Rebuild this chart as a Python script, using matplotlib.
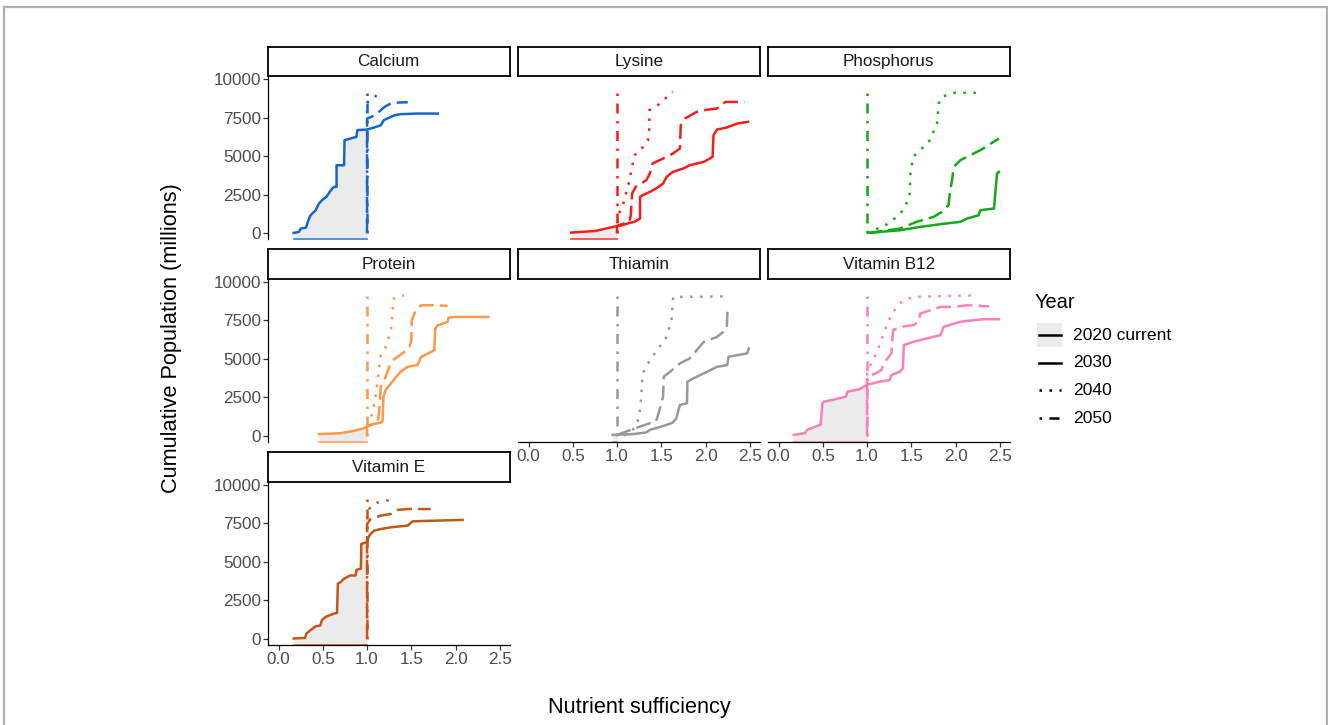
import numpy as np
import matplotlib
matplotlib.use("Agg")
import matplotlib.pyplot as plt
from matplotlib.lines import Line2D
from matplotlib.patches import Rectangle

plt.rcParams['font.family'] = ['Liberation Sans', 'DejaVu Sans']

# nutrients, panel order (facet_wrap, 3 columns)
nutrients = ['Calcium', 'Lysine', 'Phosphorus', 'Protein', 'Thiamin', 'Vitamin B12', 'Vitamin E']
colors = ['#1866c9', '#f81d1d', '#17a817', '#fd9848', '#999999', '#fa7fba', '#c05818']
years = ['2020 current', '2030', '2040', '2050']

# ---- Calcium
ca20_x = [0.17, 0.23, 0.25, 0.31, 0.33, 0.36, 0.42, 0.455, 0.49, 0.54, 0.59, 0.625, 0.655, 0.655, 0.74, 0.745,
          0.88, 0.89, 1.0, 1.08, 1.155, 1.19, 1.23, 1.31, 1.38, 1.57, 1.8]
ca20_y = [0, 65, 280, 350, 720, 1150, 1480, 1910, 2130, 2350, 2780, 3000, 3000, 4410, 4410, 6040,
          6260, 6700, 6740, 6870, 7020, 7350, 7460, 7670, 7740, 7780, 7780]
ca30_x = [1.0, 1.0, 1.06, 1.12, 1.18, 1.2, 1.28, 1.46]
ca30_y = [0, 7450, 7600, 7800, 8130, 8220, 8480, 8520]
ca40_x = [1.0, 1.0, 1.04, 1.08, 1.12, 1.17]
ca40_y = [0, 8500, 8650, 8800, 9090, 9150]
ca50_x = [1.0, 1.0]
ca50_y = [0, 9350]

# ---- Lysine
ly20_x = [0.48, 0.76, 0.87, 0.985, 1.0, 1.06, 1.14, 1.195, 1.26, 1.26, 1.29, 1.37, 1.44, 1.52, 1.56, 1.63,
          1.75, 1.82, 1.9, 1.98, 2.05, 2.08, 2.09, 2.13, 2.24, 2.36, 2.48]
ly20_y = [20, 130, 280, 430, 450, 500, 650, 720, 935, 2350, 2460, 2670, 2890, 3220, 3650, 3980,
          4200, 4410, 4520, 4630, 4850, 4960, 6370, 6740, 6870, 7130, 7240]
ly30_x = [1.0, 1.0, 1.02, 1.14, 1.155, 1.17, 1.21, 1.33, 1.37, 1.40, 1.52, 1.63, 1.71, 1.72, 1.77, 1.9,
          1.98, 2.13, 2.225, 2.44]
ly30_y = [0, 450, 500, 720, 1150, 2560, 3000, 3430, 3870, 4520, 4850, 5170, 5500, 7020, 7460, 7890,
          8000, 8110, 8540, 8540]
ly40_x = [1.0, 1.0, 1.02, 1.06, 1.10, 1.14, 1.195, 1.25, 1.35, 1.365, 1.365, 1.44, 1.63]
ly40_y = [0, 500, 1260, 1700, 2560, 3430, 5060, 5280, 6040, 6910, 8000, 8220, 9200]
ly50_x = [1.0, 1.0]
ly50_y = [0, 9350]

# ---- Phosphorus
ph20_x = [1.05, 1.14, 1.37, 1.6, 1.83, 2.055, 2.13, 2.26, 2.28, 2.435, 2.455, 2.47, 2.49]
ph20_y = [0, 65, 170, 390, 570, 720, 935, 1150, 1480, 1590, 3000, 3870, 3980]
ph30_x = [1.0, 1.1, 1.37, 1.56, 1.75, 1.845, 1.92, 1.94, 1.96, 1.98, 2.055, 2.13, 2.28, 2.4, 2.49]
ph30_y = [0, 65, 280, 720, 1040, 1370, 1800, 2780, 3430, 4300, 4740, 4960, 5390, 5830, 6150]
ph40_x = [1.0, 1.03, 1.18, 1.29, 1.41, 1.48, 1.49, 1.52, 1.6, 1.71, 1.79, 1.81, 1.845, 1.98, 2.28]
ph40_y = [0, 130, 390, 830, 1480, 2350, 3870, 4960, 5390, 6040, 7130, 8430, 8870, 9130, 9130]
ph50_x = [1.0, 1.0]
ph50_y = [0, 9350]

# ---- Protein
pr20_x = [0.455, 0.70, 0.81, 0.93, 1.0, 1.08, 1.155, 1.175, 1.185, 1.21, 1.27, 1.33, 1.38, 1.46, 1.57, 1.61,
          1.69, 1.76, 1.77, 1.8, 1.91, 1.92, 1.99, 2.37]
pr20_y = [90, 150, 260, 410, 580, 760, 840, 910, 2530, 2970, 3400, 3830, 4160, 4480, 4590, 5130,
          5350, 5560, 6970, 7190, 7400, 7680, 7730, 7730]
pr30_x = [1.0, 1.0, 1.04, 1.12, 1.135, 1.155, 1.21, 1.25, 1.29, 1.345, 1.40, 1.48, 1.5, 1.505, 1.55, 1.61,
          1.76, 1.91]
pr30_y = [0, 580, 690, 910, 1450, 3180, 3830, 4480, 4910, 5130, 5350, 5780, 6210, 7510, 8160, 8490,
          8490, 8450]
pr40_x = [1.0, 1.0, 1.02, 1.06, 1.10, 1.12, 1.155, 1.21, 1.27, 1.30, 1.38, 1.42]
pr40_y = [0, 600, 800, 1450, 2750, 3620, 5240, 5780, 6860, 8920, 9130, 9130]
pr50_x = [1.0, 1.0]
pr50_y = [0, 9350]

# ---- Thiamin
th20_x = [0.95, 1.0, 1.18, 1.33, 1.37, 1.44, 1.56, 1.63, 1.67, 1.71, 1.79, 1.795, 1.86, 1.98, 2.13, 2.245,
          2.26, 2.36, 2.47, 2.49]
th20_y = [40, 60, 90, 200, 370, 480, 690, 840, 1130, 1990, 2100, 3510, 3720, 4050, 4480, 4590,
          5130, 5240, 5350, 5670]
th30_x = [1.0, 1.0, 1.21, 1.37, 1.44, 1.48, 1.52, 1.527, 1.6, 1.71, 1.82, 1.9, 1.98, 2.13, 2.2, 2.24, 2.25]
th30_y = [0, 40, 480, 800, 910, 1670, 2530, 3830, 4160, 4700, 5020, 5560, 6100, 6430, 6750, 6970, 8380]
th40_x = [1.08, 1.14, 1.21, 1.25, 1.27, 1.29, 1.35, 1.40, 1.48, 1.56, 1.615, 1.635, 2.24]
th40_y = [0, 150, 580, 1230, 2320, 4050, 4700, 5130, 5780, 6430, 7510, 9030, 9070]
th50_x = [1.0, 1.0]
th50_y = [0, 9350]

# ---- Vitamin B12
b12_20_x = [0.17, 0.30, 0.32, 0.42, 0.475, 0.495, 0.515, 0.61, 0.76, 0.78, 0.91, 1.0, 1.065, 1.14, 1.255,
            1.275, 1.37, 1.405, 1.415, 1.52, 1.67, 1.83, 1.865, 1.98, 2.09, 2.32, 2.49]
b12_20_y = [40, 150, 370, 580, 690, 2100, 2210, 2320, 2530, 2860, 3010, 3300, 3400, 3510, 3610,
            3940, 4160, 4370, 5890, 6100, 6320, 6540, 7080, 7290, 7450, 7580, 7580]
b12_30_x = [1.0, 1.0, 1.1, 1.16, 1.2, 1.275, 1.285, 1.295, 1.37, 1.52, 1.58, 1.6, 1.71, 1.83, 1.98, 2.13, 2.38]
b12_30_y = [0, 3830, 4050, 4260, 4800, 5350, 6210, 6860, 7080, 7190, 7400, 7940, 8160, 8380, 8380, 8490, 8420]
b12_40_x = [1.0, 1.0, 1.03, 1.065, 1.12, 1.16, 1.2, 1.255, 1.33, 1.41, 1.52, 1.75, 2.245]
b12_40_y = [0, 4000, 4480, 4910, 5560, 6210, 6860, 7620, 8380, 8810, 9030, 9070, 9130]
b12_50_x = [1.0, 1.0]
b12_50_y = [0, 9310]

# ---- Vitamin E
ve20_x = [0.17, 0.30, 0.315, 0.36, 0.42, 0.47, 0.49, 0.53, 0.625, 0.66, 0.67, 0.70, 0.74, 0.81, 0.87, 0.88,
          0.93, 0.935, 1.0, 1.015, 1.04, 1.08, 1.155, 1.27, 1.46, 1.515, 1.76, 2.08]
ve20_y = [0, 40, 330, 540, 800, 840, 1190, 1410, 1620, 1670, 3570, 3680, 3900, 4110, 4110, 4480,
          4550, 6170, 6280, 6600, 6820, 7030, 7140, 7250, 7360, 7640, 7680, 7730]
ve30_x = [1.0, 1.0, 1.04, 1.1, 1.155, 1.27, 1.345, 1.46, 1.72]
ve30_y = [0, 7470, 7790, 7900, 8010, 8120, 8380, 8440, 8440]
ve40_x = [1.0, 1.0, 1.04, 1.12, 1.31]
ve40_y = [0, 8330, 8550, 8870, 9090]
ve50_x = [1.0, 1.0]
ve50_y = [0, 9310]

series = {
    'Calcium': [(ca20_x, ca20_y), (ca30_x, ca30_y), (ca40_x, ca40_y), (ca50_x, ca50_y)],
    'Lysine': [(ly20_x, ly20_y), (ly30_x, ly30_y), (ly40_x, ly40_y), (ly50_x, ly50_y)],
    'Phosphorus': [(ph20_x, ph20_y), (ph30_x, ph30_y), (ph40_x, ph40_y), (ph50_x, ph50_y)],
    'Protein': [(pr20_x, pr20_y), (pr30_x, pr30_y), (pr40_x, pr40_y), (pr50_x, pr50_y)],
    'Thiamin': [(th20_x, th20_y), (th30_x, th30_y), (th40_x, th40_y), (th50_x, th50_y)],
    'Vitamin B12': [(b12_20_x, b12_20_y), (b12_30_x, b12_30_y), (b12_40_x, b12_40_y), (b12_50_x, b12_50_y)],
    'Vitamin E': [(ve20_x, ve20_y), (ve30_x, ve30_y), (ve40_x, ve40_y), (ve50_x, ve50_y)],
}

LW = 1.8
styles = ['-', (0, (6, 2.5)), (0, (1, 3)), (0, (1, 3, 4, 3))]
x_ticks = [0.0, 0.5, 1.0, 1.5, 2.0, 2.5]
y_ticks = [0, 2500, 5000, 7500, 10000]
XLIM = (-0.12, 2.61)
YLIM = (-430, 10215)

W, H = 1328, 725
fig = plt.figure(figsize=(W / 100, H / 100), dpi=100)


def rect(left, top, right, bottom):
    return [left / W, 1 - bottom / H, (right - left) / W, (bottom - top) / H]


def fx(px):
    return px / W


def fy(py):
    return 1 - py / H


col_left = [268, 518, 768]
row_top = [46.7, 249.3, 452.3]
pw, sh, ph = 241.5, 29.5, 163.3

for i, name in enumerate(nutrients):
    r, c = divmod(i, 3)
    left, top = col_left[c], row_top[r]
    ax = fig.add_axes(rect(left, top + sh, left + pw, top + sh + ph))
    sax = fig.add_axes(rect(left, top, left + pw, top + sh))
    sax.set_xticks([])
    sax.set_yticks([])
    for s in sax.spines.values():
        s.set_linewidth(1.3)
    sax.text(0.5, 0.5, name, ha='center', va='center', fontsize=12.3, color='#1a1a1a',
             transform=sax.transAxes)

    col = colors[i]
    x0, y0 = np.array(series[name][0][0]), np.array(series[name][0][1])
    m = x0 <= 1.0
    if m.sum() > 1:
        ax.fill_between(x0[m], y0[m], YLIM[0], color='#ebebeb', lw=0, zorder=1)
        ax.plot([x0[m].min(), 1.0], [YLIM[0], YLIM[0]], color=col, lw=1.3, alpha=0.75,
                clip_on=False, zorder=1.5)
    for (xs, ys), ls in zip(series[name], styles):
        ax.plot(xs, ys, color=col, lw=LW, linestyle=ls, zorder=2)

    ax.set_xlim(*XLIM)
    ax.set_ylim(*YLIM)
    for s in ['top', 'right']:
        ax.spines[s].set_visible(False)
    show_left = c == 0
    show_bottom = name in ['Thiamin', 'Vitamin B12', 'Vitamin E']
    ax.spines['left'].set_visible(show_left)
    ax.spines['bottom'].set_visible(show_bottom)
    ax.spines['left'].set_linewidth(0.9)
    ax.spines['bottom'].set_linewidth(0.9)
    ax.set_xticks(x_ticks)
    ax.set_xticklabels(['%.1f' % v for v in x_ticks])
    ax.set_yticks(y_ticks)
    ax.set_yticklabels([str(v) for v in y_ticks])
    ax.tick_params(axis='both', labelsize=12.3, labelcolor='#4d4d4d', length=3.3, width=0.9,
                   pad=1.5, color='#333333')
    ax.tick_params(axis='y', left=show_left, labelleft=show_left)
    ax.tick_params(axis='x', bottom=show_bottom, labelbottom=show_bottom)
    ax.patch.set_alpha(0)

fig.text(172 / W, 1 - 338 / H, 'Cumulative Population (millions)', rotation=90, ha='center',
         va='center', fontsize=15.7, color='black')
fig.text(639 / W, 1 - 707 / H, 'Nutrient sufficiency', ha='center', va='center', fontsize=15.7,
         color='black')

# legend drawn by hand (ggplot-like keys)
fig.text(fx(1035), fy(302), 'Year', ha='left', va='center', fontsize=14.4, color='black')
key_styles = ['-', '-', (0, (1, 3)), (0, (1, 3, 4, 3))]
for k, (lab, ls) in enumerate(zip(years, key_styles)):
    yc = 335 + k * 27.7
    if k == 0:
        fig.add_artist(Rectangle((fx(1037), fy(yc + 12.5)), 25 / W, 25 / H, facecolor='#ebebeb',
                                 edgecolor='none', transform=fig.transFigure))
    fig.add_artist(Line2D([fx(1038.5), fx(1061)], [fy(yc), fy(yc)], color='black', lw=LW,
                          linestyle=ls, transform=fig.transFigure))
    fig.text(fx(1073), fy(yc), lab, ha='left', va='center', fontsize=12.6, color='black')

# thin grey frame round the figure
for xs, ys in [([4, 4], [725, 7]), ([4, 1327], [7, 7]), ([1327, 1327], [7, 725])]:
    fig.add_artist(Line2D([fx(v) for v in xs], [fy(v) for v in ys], color='#b0b0b0', lw=1.6,
                          transform=fig.transFigure))

fig.savefig('out.png', dpi=100)
